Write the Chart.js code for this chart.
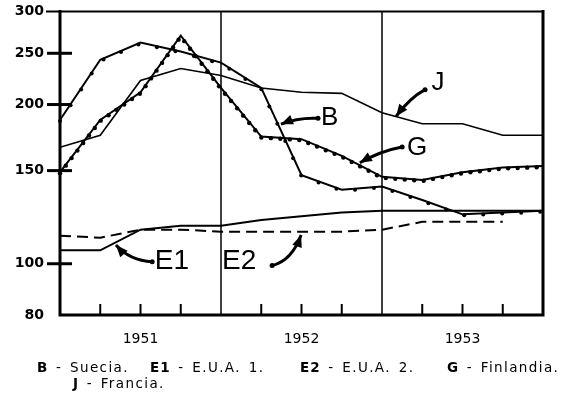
<!DOCTYPE html>
<html>
<head>
<meta charset="utf-8">
<script src="https://cdn.jsdelivr.net/npm/chart.js@4"></script>
<style>
  html, body { margin: 0; padding: 0; background: #fff; }
  #wrap { position: relative; width: 567px; height: 396px; }
  #wrap canvas { position: absolute; left: 0; top: 0; }
  .lg { position: absolute; font: 13.5px "DejaVu Sans", sans-serif; color: #000; white-space: pre;
        line-height: 15px; letter-spacing: 1.4px; word-spacing: 2px; }
  .lg b { font-weight: 900; letter-spacing: 1px; }
</style>
</head>
<body>
<div id="wrap">
  <canvas id="chart" width="567" height="396"></canvas>
</div>
<script>
// quarters from start of 1951 to end of 1953
const quarters = [0, 1, 2, 3, 4, 5, 6, 7, 8, 9, 10, 11, 12];
const yearLabels = ['1951', '1952', '1953'];
const yTicks = [80, 100, 150, 200, 250, 300];

const suecia    = [187, 243, 262, 252, 240, 215, 147, 138, 140, 132, 124, 125, 126];
const eua1      = [106, 106, 116, 118, 118, 121, 123, 125, 126, 126, 126, 126, 126];
const eua2      = [113, 112, 116, 116, 115, 115, 115, 115, 116, 120, 120, 120, null];
const finlandia = [149, 187, 211, 270, 215, 174, 172, 160, 146, 144, 149, 152, 153];
const francia   = [166, 175, 222, 234, 227, 215, 211, 210, 193, 184, 184, 175, 175];

const codes = ['B', 'E1', 'E2', 'G', 'J'];
const names = ['Suecia.', 'E.U.A. 1.', 'E.U.A. 2.', 'Finlandia.', 'Francia.'];

// labels with arrows, in data units: text, arrow tail, control, head
const notes = [
  { t: 'B',  at: [6.70, 189], tail: [6.41, 188.4], c: [5.91, 189.2], head: [5.49, 183.6], size: 26 },
  { t: 'G',  at: [8.87, 166], tail: [8.50, 166.3], c: [7.95, 163.4], head: [7.45, 155.2], size: 26 },
  { t: 'J',  at: [9.39, 220], tail: [9.07, 213.4], c: [8.70, 206.2], head: [8.35, 190.0], size: 26 },
  { t: 'E1', at: [2.78, 101], tail: [2.29, 100.9], c: [1.74, 101.3], head: [1.39, 108.5], size: 28 },
  { t: 'E2', at: [4.45, 101], tail: [5.27, 99.2],  c: [5.76, 101.3], head: [5.99, 113.3], size: 28 }
];

const pts = arr => quarters.map((q, i) => ({ x: q, y: arr[i] }));

function arrow(ctx, x0, y0, cx, cy, x1, y1) {
  ctx.lineWidth = 3;
  ctx.beginPath();
  ctx.moveTo(x0, y0);
  ctx.quadraticCurveTo(cx, cy, x1, y1);
  ctx.stroke();
  const a = Math.atan2(y1 - cy, x1 - cx);
  const L = 12, W = 5;
  ctx.beginPath();
  ctx.moveTo(x1, y1);
  ctx.lineTo(x1 - L * Math.cos(a) + W * Math.sin(a), y1 - L * Math.sin(a) - W * Math.cos(a));
  ctx.lineTo(x1 - L * Math.cos(a) - W * Math.sin(a), y1 - L * Math.sin(a) + W * Math.cos(a));
  ctx.closePath();
  ctx.fill();
  // blob at the tail
  ctx.beginPath();
  ctx.arc(x0, y0, 2.5, 0, Math.PI * 2);
  ctx.fill();
}

const decor = {
  id: 'decor',
  beforeDatasetsDraw(chart) {
    const { ctx, chartArea: a, scales: { x } } = chart;
    ctx.save();
    ctx.strokeStyle = '#000';
    ctx.lineWidth = 1.5;
    [4, 8].forEach(q => {
      const px = x.getPixelForValue(q);
      ctx.beginPath(); ctx.moveTo(px, a.top); ctx.lineTo(px, a.bottom); ctx.stroke();
    });
    ctx.restore();
  },
  afterDatasetsDraw(chart) {
    const { ctx, chartArea: a, scales: { x, y } } = chart;
    ctx.save();
    ctx.fillStyle = '#000';
    ctx.strokeStyle = '#000';

    // beads along B and G
    chart.data.datasets.forEach((ds, i) => {
      if (!ds.beadGap) return;
      const el = chart.getDatasetMeta(i).data;
      let carry = 0;
      for (let k = 0; k < el.length - 1; k++) {
        const p = el[k], q = el[k + 1];
        if (p.skip || q.skip) continue;
        const len = Math.hypot(q.x - p.x, q.y - p.y);
        let d = carry;
        while (d < len) {
          const t = d / len;
          ctx.beginPath();
          ctx.arc(p.x + (q.x - p.x) * t, p.y + (q.y - p.y) * t + 1, ds.beadR, 0, Math.PI * 2);
          ctx.fill();
          d += ds.beadGap;
        }
        carry = d - len;
      }
    });

    // frame
    ctx.lineCap = 'square';
    ctx.lineWidth = 3;
    ctx.beginPath();
    ctx.moveTo(a.left, a.top); ctx.lineTo(a.left, a.bottom); ctx.lineTo(a.right, a.bottom); ctx.lineTo(a.right, a.top);
    ctx.stroke();
    ctx.lineWidth = 2;
    ctx.beginPath(); ctx.moveTo(a.left - 13, a.top); ctx.lineTo(a.right, a.top); ctx.stroke();
    ctx.lineCap = 'butt';

    // y ticks crossing the axis
    ctx.lineWidth = 3;
    yTicks.forEach(v => {
      if (v === 80 || v === 300) return;
      const py = y.getPixelForValue(v);
      ctx.beginPath(); ctx.moveTo(a.left - 13, py); ctx.lineTo(a.left + 12, py); ctx.stroke();
    });
    // quarter ticks inside the bottom
    ctx.lineWidth = 2;
    quarters.forEach(q => {
      if (q % 4 === 0) return;
      const px = x.getPixelForValue(q);
      ctx.beginPath(); ctx.moveTo(px, a.bottom); ctx.lineTo(px, a.bottom - 11); ctx.stroke();
    });

    // labels with arrows
    notes.forEach(n => {
      const P = p => [x.getPixelForValue(p[0]), y.getPixelForValue(p[1])];
      const t = P(n.at), t0 = P(n.tail), c = P(n.c), h = P(n.head);
      ctx.font = n.size + 'px "Liberation Sans", sans-serif';
      ctx.textAlign = 'center';
      ctx.textBaseline = 'middle';
      ctx.fillText(n.t, t[0], t[1]);
      arrow(ctx, t0[0], t0[1], c[0], c[1], h[0], h[1]);
    });
    ctx.restore();
  }
};

new Chart(document.getElementById('chart'), {
  type: 'line',
  data: {
    datasets: [
      { label: codes[0], data: pts(suecia), borderColor: '#000', borderWidth: 2, beadGap: 19, beadR: 2 },
      { label: codes[1], data: pts(eua1), borderColor: '#000', borderWidth: 2 },
      { label: codes[2], data: pts(eua2), borderColor: '#000', borderWidth: 2, borderDash: [11, 6] },
      { label: codes[3], data: pts(finlandia), borderColor: '#000', borderWidth: 2, beadGap: 9.5, beadR: 2.2 },
      { label: codes[4], data: pts(francia), borderColor: '#000', borderWidth: 1.6 }
    ]
  },
  options: {
    responsive: false,
    animation: false,
    layout: { padding: { top: 10, right: 24, left: 0, bottom: 0 } },
    elements: { line: { tension: 0, fill: false }, point: { radius: 0 } },
    plugins: { legend: { display: false }, tooltip: { enabled: false } },
    scales: {
      x: {
        type: 'linear', min: 0, max: 12,
        afterBuildTicks: s => { s.ticks = [2, 6, 10].map(v => ({ value: v })); },
        afterFit: s => { s.height = 81; },
        grid: { display: false, drawTicks: false },
        border: { display: false },
        ticks: {
          padding: 16,
          color: '#000',
          font: { family: '"DejaVu Sans", sans-serif', size: 14 },
          callback: v => yearLabels[(v - 2) / 4]
        }
      },
      y: {
        type: 'logarithmic', min: 80, max: 300,
        afterBuildTicks: s => { s.ticks = yTicks.map(v => ({ value: v })); },
        afterFit: s => { s.width = 60; },
        grid: { drawOnChartArea: false, color: 'rgba(0,0,0,0)', tickLength: 13 },
        border: { display: false },
        ticks: {
          padding: 3,
          color: '#000',
          font: { family: '"DejaVu Sans", sans-serif', size: 14, weight: 'bold' },
          callback: v => String(v)
        }
      }
    }
  },
  plugins: [decor]
});

// legend below the chart
const wrap = document.getElementById('wrap');
const spots = [[37, 360], [150, 360], [300, 360], [447, 360], [73, 376]];
codes.forEach((c, i) => {
  const d = document.createElement('div');
  d.className = 'lg';
  d.style.left = spots[i][0] + 'px';
  d.style.top = spots[i][1] + 'px';
  d.innerHTML = '<b>' + c + '</b> - ' + names[i];
  wrap.appendChild(d);
});
</script>
</body>
</html>
